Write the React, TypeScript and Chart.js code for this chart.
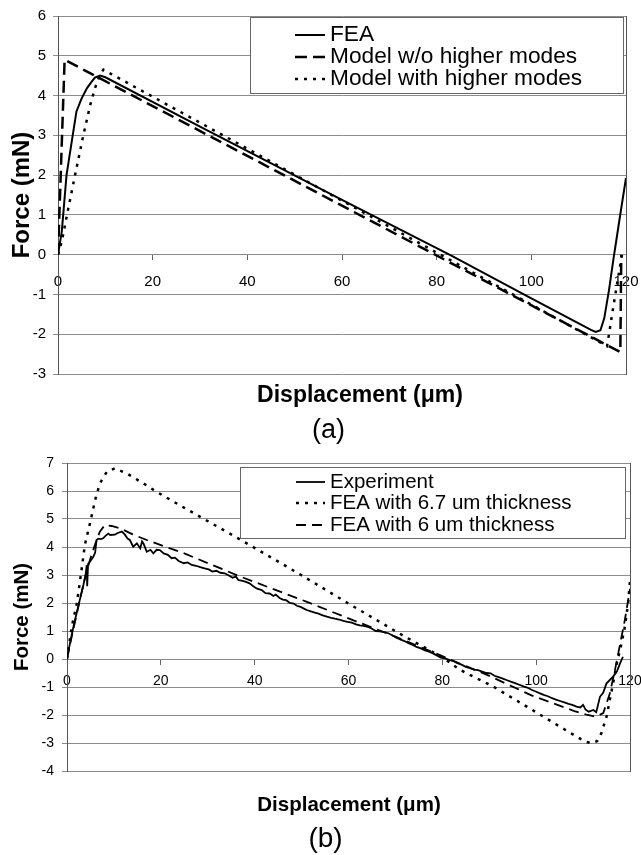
import React, { useEffect, useRef } from "react";
import { Chart, registerables } from "chart.js";

Chart.register(...registerables);

const FAMILY = '"Liberation Sans", Arial, Helvetica, sans-serif';

// ---------- Chart (a) data ----------
const xTicksA = [0, 20, 40, 60, 80, 100, 120];
const yTicksA = [-3, -2, -1, 0, 1, 2, 3, 4, 5, 6];

const feaX = [0, 0.8, 1.8, 2.9, 3.9, 5.0, 6.1, 7.0, 7.8, 8.9, 10.0, 30, 60, 83, 100, 110, 112.6, 113.6, 114.6, 115.4, 116.4, 117.3, 118.7, 120];
const feaY = [0, 0.58, 2.0, 2.84, 3.6, 3.93, 4.18, 4.33, 4.45, 4.5, 4.46, 3.22, 1.38, -0.02, -1.1, -1.73, -1.89, -1.94, -1.9, -1.6, -0.9, -0.15, 0.94, 1.93];

const woX = [0, 1.4, 118.8, 119.0];
const woY = [0, 4.9, -2.45, 0];

const withX = [0, 0.8, 2.2, 3.6, 5.35, 6.8, 7.8, 8.7, 9.6, 116, 117.2, 118.3, 119.3];
const withY = [0, 0.33, 1.18, 2.0, 3.0, 3.76, 4.18, 4.48, 4.65, -2.3, -1.4, -0.6, 0.1];

const labelsA = ["FEA", "Model w/o higher modes", "Model with higher modes"];

// ---------- Chart (b) data ----------
const xTicksB = [0, 20, 40, 60, 80, 100, 120];
const yTicksB = [-4, -3, -2, -1, 0, 1, 2, 3, 4, 5, 6, 7];

const expX = [0, 0.5, 1.0, 1.5, 2.0, 2.5, 3.0, 3.5, 4.0, 4.2, 4.3, 4.5, 5.0, 5.6, 6.0, 6.3, 6.7, 7.2, 7.7, 8.2, 8.8, 9.2, 10.2, 10.8, 11.7, 12.3, 12.9, 13.4, 14.1, 14.9, 15.6, 16.0, 16.3, 17.0, 17.8, 18.4, 19.1, 19.8, 20.6, 21.5, 22.3, 23.0, 23.8, 24.9, 25.7, 26.6, 27.5, 28.4, 29.3, 30.2, 31.0, 31.8, 32.7, 33.6, 34.5, 35.3, 36.0, 36.5, 37.2, 38.0, 38.9, 39.7, 40.4, 41.5, 42.3, 43.2, 44.0, 44.5, 45.3, 46.0, 46.7, 47.5, 48.3, 49.0, 49.8, 50.5, 51.1, 52.0, 52.8, 53.6, 54.5, 55.4, 56.3, 57.1, 58.0, 58.9, 59.8, 60.7, 61.6, 62.4, 63.2, 64.1, 65.0, 65.8, 66.7, 67.6, 68.5, 69.3, 70.2, 71.0, 71.8, 72.9, 73.7, 74.5, 75.4, 76.3, 77.2, 78.0, 78.9, 79.7, 80.6, 81.6, 82.4, 83.2, 84.1, 85.0, 85.9, 86.7, 87.6, 88.5, 89.4, 90.3, 91.1, 92.0, 92.9, 93.8, 94.6, 95.5, 96.4, 97.3, 98.1, 99.0, 99.9, 100.7, 101.6, 102.5, 103.4, 104.2, 105.1, 106.0, 106.9, 107.7, 108.6, 109.4, 110.0, 110.5, 111.2, 112.2, 112.8, 113.6, 114.3, 115.0, 116.4, 117.2, 117.9, 118.5];
const expY = [0, 0.45, 0.85, 1.25, 1.6, 1.95, 2.3, 2.65, 3.05, 3.35, 2.6, 3.4, 3.5, 3.65, 3.8, 4.25, 4.3, 4.28, 4.31, 4.4, 4.48, 4.43, 4.44, 4.5, 4.55, 4.45, 4.3, 4.25, 4.01, 4.13, 3.95, 4.2, 4.13, 3.83, 3.9, 3.77, 3.9, 3.89, 3.77, 3.72, 3.6, 3.62, 3.5, 3.42, 3.45, 3.36, 3.33, 3.28, 3.24, 3.2, 3.12, 3.15, 3.08, 3.06, 2.98, 2.9, 2.95, 2.82, 2.8, 2.76, 2.7, 2.6, 2.52, 2.46, 2.35, 2.34, 2.25, 2.3, 2.18, 2.12, 2.1, 2.0, 1.98, 1.9, 1.86, 1.8, 1.75, 1.7, 1.66, 1.62, 1.56, 1.51, 1.47, 1.44, 1.41, 1.36, 1.33, 1.3, 1.24, 1.2, 1.18, 1.15, 1.08, 1.0, 0.99, 0.96, 0.92, 0.85, 0.76, 0.7, 0.65, 0.56, 0.5, 0.43, 0.38, 0.31, 0.26, 0.2, 0.12, 0.05, 0.02, -0.04, -0.08, -0.15, -0.2, -0.28, -0.33, -0.38, -0.4, -0.45, -0.5, -0.51, -0.6, -0.65, -0.7, -0.76, -0.81, -0.86, -0.92, -0.98, -1.02, -1.1, -1.16, -1.22, -1.28, -1.33, -1.4, -1.45, -1.5, -1.55, -1.6, -1.64, -1.7, -1.73, -1.64, -1.8, -1.88, -1.82, -1.9, -1.35, -1.2, -0.87, -0.63, -0.45, -0.15, 0.08];

const d67X = [0, 0.3, 1.0, 2.1, 3.1, 3.8, 4.9, 6.0, 7.0, 8.5, 10.2, 12.7, 16.3, 19.1, 25, 37.1, 49.3, 59.8, 72, 79.8, 83.8, 90.9, 98, 105.1, 108.6, 110.5, 111.8, 113, 113.9, 115, 115.7, 116.4, 117.2, 118.2, 118.9, 119.6, 120];
const d67Y = [0, 0.32, 1.15, 1.99, 3.18, 4.07, 4.85, 5.68, 6.27, 6.69, 6.81, 6.63, 6.27, 5.97, 5.4, 4.25, 3.06, 2.0, 0.8, 0.08, -0.39, -0.99, -1.7, -2.42, -2.77, -2.95, -3.01, -2.93, -2.65, -2.06, -1.46, -0.87, -0.15, 0.56, 1.15, 1.99, 2.8];

const d6X = [0, 1, 2, 3, 4, 5, 6, 7, 8.1, 9.5, 11.3, 14, 17, 25, 37, 51, 60, 70, 80, 90, 99, 108, 111, 112.8, 114.3, 115.7, 116.8, 117.5, 118.2, 118.9, 120];
const d6Y = [0, 0.8, 1.55, 2.3, 3.0, 3.6, 4.1, 4.55, 4.79, 4.75, 4.67, 4.45, 4.25, 3.77, 2.94, 2.05, 1.45, 0.8, 0.1, -0.6, -1.3, -1.85, -2.0, -2.06, -1.93, -1.23, -0.39, 0.2, 0.8, 1.39, 2.5];

const labelsB = ["Experiment", "FEA with 6.7 um thickness", "FEA with 6 um thickness"];

const pts = (xs: number[], ys: number[]) => xs.map((x, i) => ({ x, y: ys[i] }));

// Boxed legend drawn inside the plot, like the original spreadsheet legend
const boxLegend = {
  id: "boxLegend",
  afterDraw(chart: any, _args: any, opts: any) {
    const { ctx } = chart;
    const b = opts.box;
    ctx.save();
    ctx.fillStyle = "#ffffff";
    ctx.fillRect(b.left, b.top, b.right - b.left, b.bottom - b.top);
    ctx.strokeStyle = "#666666";
    ctx.lineWidth = 1;
    ctx.setLineDash([]);
    ctx.strokeRect(b.left + 0.5, b.top + 0.5, b.right - b.left, b.bottom - b.top);
    chart.data.datasets.forEach((ds: any, i: number) => {
      const y = opts.rows[i];
      ctx.save();
      ctx.strokeStyle = ds.borderColor;
      ctx.lineWidth = ds.borderWidth;
      ctx.setLineDash(ds.borderDash || []);
      ctx.beginPath();
      ctx.moveTo(opts.sampleFrom, y);
      ctx.lineTo(opts.sampleTo, y);
      ctx.stroke();
      ctx.restore();
      ctx.fillStyle = "#000000";
      ctx.font = opts.font;
      ctx.textAlign = "left";
      ctx.textBaseline = "middle";
      ctx.fillText(ds.label, opts.textX, y);
    });
    ctx.restore();
  },
};

function makeConfig(p: any) {
  return {
    type: "line",
    data: { datasets: p.datasets },
    options: {
      animation: false,
      responsive: false,
      devicePixelRatio: 1,
      events: [],
      layout: { padding: p.padding },
      elements: { point: { radius: 0 }, line: { tension: 0 } },
      scales: {
        x: {
          type: "linear",
          min: 0,
          max: 120,
          position: { y: 0 },
          afterBuildTicks: (s: any) => {
            s.ticks = p.xTicks.map((v: number) => ({ value: v }));
          },
          afterFit: (s: any) => {
            s.paddingLeft = 0;
            s.paddingRight = 0;
          },
          ticks: {
            color: "#000",
            font: { family: FAMILY, size: p.tickSize },
            padding: p.xTickPad,
            maxRotation: 0,
            autoSkip: false,
          },
          grid: {
            display: true,
            drawOnChartArea: false,
            drawTicks: true,
            tickLength: 5,
            color: "#666666",
          },
          border: { display: true, color: "#8c8c8c" },
        },
        y: {
          type: "linear",
          min: p.yMin,
          max: p.yMax,
          afterBuildTicks: (s: any) => {
            s.ticks = p.yTicks.map((v: number) => ({ value: v }));
          },
          afterFit: (s: any) => {
            s.width = p.yWidth;
          },
          ticks: {
            color: "#000",
            font: { family: FAMILY, size: p.tickSize },
            padding: p.yTickPad,
            autoSkip: false,
          },
          grid: { color: "#8c8c8c", tickLength: 5, lineWidth: 1 },
          border: { display: true, color: "#555555" },
          title: {
            display: true,
            text: "Force (mN)",
            color: "#000",
            font: { family: FAMILY, size: p.yTitleSize, weight: "bold" },
            padding: { top: p.yTitlePad, bottom: 0 },
          },
        },
        y2: {
          position: "right",
          display: true,
          ticks: { display: false },
          grid: { display: false },
          border: { display: true, color: "#555555" },
          afterFit: (s: any) => {
            s.width = 0;
          },
        },
      },
      plugins: {
        legend: { display: false },
        tooltip: { enabled: false },
        boxLegend: p.legend,
      },
    },
    plugins: [boxLegend],
  };
}

const configA = makeConfig({
  datasets: [
    { label: labelsA[0], data: pts(feaX, feaY), borderColor: "#000", borderWidth: 2, borderDash: [], pointRadius: 0, fill: false },
    { label: labelsA[1], data: pts(woX, woY), borderColor: "#000", borderWidth: 2.5, borderDash: [12, 6], pointRadius: 0, fill: false },
    { label: labelsA[2], data: pts(withX, withY), borderColor: "#000", borderWidth: 2.5, borderDash: [3, 6], pointRadius: 0, fill: false },
  ],
  padding: { left: 0, top: 14, right: 15, bottom: 71 },
  xTicks: xTicksA,
  yTicks: yTicksA,
  yMin: -3,
  yMax: 6,
  yWidth: 58,
  tickSize: 15,
  xTickPad: 13,
  yTickPad: 7,
  yTitleSize: 24,
  yTitlePad: 7.6,
  legend: {
    box: { left: 250, top: 17, right: 623, bottom: 93 },
    rows: [35, 57, 79],
    sampleFrom: 295,
    sampleTo: 325,
    textX: 330,
    font: `22.7px ${FAMILY}`,
  },
});

const configB = makeConfig({
  datasets: [
    { label: labelsB[0], data: pts(expX, expY), borderColor: "#000", borderWidth: 1.8, borderDash: [], pointRadius: 0, fill: false },
    { label: labelsB[1], data: pts(d67X, d67Y), borderColor: "#000", borderWidth: 2.5, borderDash: [3, 6], pointRadius: 0, fill: false },
    { label: labelsB[2], data: pts(d6X, d6Y), borderColor: "#000", borderWidth: 1.8, borderDash: [10, 6], pointRadius: 0, fill: false },
  ],
  padding: { left: 0, top: 18, right: 11, bottom: 84 },
  xTicks: xTicksB,
  yTicks: yTicksB,
  yMin: -4,
  yMax: 7,
  yWidth: 67,
  tickSize: 14,
  xTickPad: 8.6,
  yTickPad: 8,
  yTitleSize: 20.5,
  yTitlePad: 10.2,
  legend: {
    box: { left: 240, top: 22, right: 625, bottom: 93 },
    rows: [37, 58, 80],
    sampleFrom: 296,
    sampleTo: 325,
    textX: 330,
    font: `20.5px ${FAMILY}`,
  },
});

function ChartCanvas({ config, top, height }: { config: any; top: number; height: number }) {
  const ref = useRef<HTMLCanvasElement>(null);
  useEffect(() => {
    const chart = new Chart(ref.current as HTMLCanvasElement, config);
    return () => chart.destroy();
  }, [config]);
  return (
    <canvas
      ref={ref}
      width={641}
      height={height}
      style={{ position: "absolute", left: 0, top, width: 641, height, display: "block" }}
    />
  );
}

function Label({ text, cx, cy, size, bold }: { text: string; cx: number; cy: number; size: number; bold?: boolean }) {
  return (
    <div
      style={{
        position: "absolute",
        left: cx,
        top: cy,
        transform: "translate(-50%, -50%)",
        fontFamily: FAMILY,
        fontSize: size,
        fontWeight: bold ? "bold" : "normal",
        lineHeight: 1,
        whiteSpace: "nowrap",
        color: "#000",
      }}
    >
      {text}
    </div>
  );
}

export default function App() {
  return (
    <div style={{ position: "absolute", left: 0, top: 0, width: 641, height: 855, background: "#fff", overflow: "hidden" }}>
      <ChartCanvas config={configA} top={0} height={445} />
      <ChartCanvas config={configB} top={445} height={410} />
      <Label text="Displacement (μm)" cx={360} cy={394} size={23} bold />
      <Label text="(a)" cx={328.5} cy={428.5} size={27} />
      <Label text="Displacement (μm)" cx={349} cy={803.5} size={20.5} bold />
      <Label text="(b)" cx={325.5} cy={837.5} size={28} />
    </div>
  );
}
